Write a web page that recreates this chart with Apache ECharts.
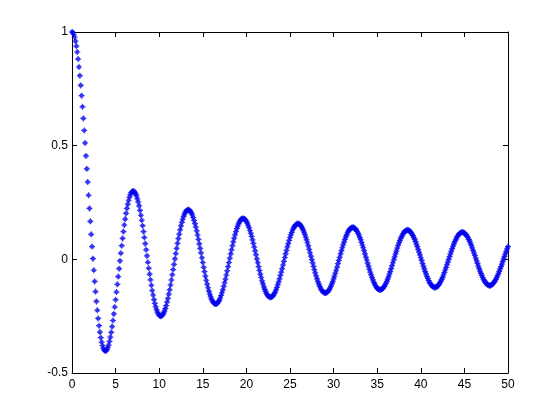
<!DOCTYPE html>
<html>
<head>
<meta charset="utf-8">
<script src="https://cdn.jsdelivr.net/npm/echarts@6/dist/echarts.min.js"></script>
<style>
html,body{margin:0;padding:0;background:#ffffff;}
#chart{width:560px;height:420px;}
</style>
</head>
<body>
<div id="chart"></div>
<script>
// Sample positions: start and step of the x grid (0 to 50)
const xStart = 0;
const xStep = 0.1;
// y values, one per sample (x = 0.0, 0.1, ..., 50.0)
const yValues = [
1.000,0.998,0.990,0.978,0.960,0.938,0.912,0.881,0.846,0.808,
0.765,0.720,0.671,0.620,0.567,0.512,0.455,0.398,0.340,0.282,
0.224,0.167,0.110,0.056,0.003,-0.048,-0.097,-0.142,-0.185,-0.224,
-0.260,-0.292,-0.320,-0.344,-0.364,-0.380,-0.392,-0.399,-0.403,-0.402,
-0.397,-0.389,-0.377,-0.361,-0.342,-0.321,-0.296,-0.269,-0.240,-0.210,
-0.178,-0.144,-0.110,-0.076,-0.041,-0.007,0.027,0.060,0.092,0.122,
0.151,0.177,0.202,0.224,0.243,0.260,0.274,0.285,0.293,0.298,
0.300,0.299,0.295,0.288,0.279,0.266,0.252,0.235,0.215,0.194,
0.172,0.148,0.122,0.096,0.069,0.042,0.015,-0.013,-0.039,-0.065,
-0.090,-0.114,-0.137,-0.157,-0.177,-0.194,-0.209,-0.222,-0.232,-0.240,
-0.246,-0.249,-0.250,-0.248,-0.243,-0.237,-0.228,-0.217,-0.204,-0.188,
-0.172,-0.153,-0.134,-0.113,-0.091,-0.068,-0.045,-0.022,0.002,0.025,
0.048,0.070,0.091,0.111,0.130,0.147,0.163,0.177,0.189,0.199,
0.207,0.213,0.217,0.218,0.218,0.215,0.210,0.203,0.195,0.184,
0.171,0.157,0.142,0.125,0.107,0.088,0.068,0.048,0.028,0.007,
-0.014,-0.035,-0.054,-0.074,-0.092,-0.109,-0.125,-0.140,-0.153,-0.165,
-0.175,-0.183,-0.189,-0.193,-0.196,-0.196,-0.195,-0.191,-0.186,-0.179,
-0.170,-0.159,-0.147,-0.134,-0.119,-0.103,-0.087,-0.069,-0.051,-0.032,
-0.014,0.005,0.024,0.042,0.060,0.077,0.093,0.108,0.122,0.135,
0.146,0.156,0.164,0.171,0.176,0.179,0.180,0.179,0.177,0.173,
0.167,0.159,0.150,0.140,0.128,0.115,0.101,0.086,0.070,0.054,
0.037,0.020,0.002,-0.015,-0.032,-0.049,-0.065,-0.080,-0.095,-0.108,
-0.121,-0.132,-0.141,-0.150,-0.156,-0.161,-0.165,-0.167,-0.167,-0.166,
-0.162,-0.158,-0.151,-0.144,-0.134,-0.124,-0.112,-0.100,-0.086,-0.071,
-0.056,-0.041,-0.025,-0.009,0.008,0.024,0.039,0.055,0.069,0.083,
0.096,0.108,0.119,0.129,0.137,0.144,0.149,0.153,0.156,0.157,
0.156,0.154,0.150,0.145,0.138,0.130,0.120,0.110,0.098,0.086,
0.073,0.059,0.044,0.029,0.014,-0.001,-0.016,-0.031,-0.046,-0.060,
-0.073,-0.086,-0.098,-0.108,-0.118,-0.126,-0.133,-0.139,-0.144,-0.146,
-0.148,-0.148,-0.146,-0.143,-0.139,-0.133,-0.126,-0.118,-0.108,-0.098,
-0.086,-0.074,-0.061,-0.048,-0.034,-0.019,-0.005,0.009,0.024,0.038,
0.051,0.064,0.076,0.088,0.099,0.108,0.117,0.124,0.130,0.135,
0.138,0.140,0.140,0.140,0.137,0.134,0.129,0.123,0.115,0.107,
0.097,0.087,0.075,0.063,0.051,0.038,0.024,0.010,-0.003,-0.017,
-0.030,-0.043,-0.056,-0.068,-0.079,-0.090,-0.100,-0.108,-0.115,-0.122,
-0.127,-0.131,-0.133,-0.134,-0.134,-0.132,-0.129,-0.125,-0.120,-0.113,
-0.106,-0.097,-0.087,-0.077,-0.065,-0.054,-0.041,-0.028,-0.015,-0.002,
0.011,0.024,0.036,0.049,0.061,0.072,0.082,0.092,0.100,0.108,
0.114,0.120,0.124,0.127,0.128,0.129,0.128,0.125,0.122,0.117,
0.111,0.104,0.096,0.088,0.078,0.067,0.056,0.044,0.032,0.020,
0.007,-0.005,-0.018,-0.030,-0.042,-0.054,-0.064,-0.075,-0.084,-0.093,
-0.101,-0.107,-0.113,-0.117,-0.121,-0.123,-0.124,-0.123,-0.121,-0.119,
-0.115,-0.109,-0.103,-0.096,-0.088,-0.079,-0.069,-0.058,-0.047,-0.036,
-0.024,-0.012,0.000,0.012,0.024,0.036,0.047,0.058,0.068,0.078,
0.086,0.094,0.101,0.107,0.112,0.115,0.118,0.119,0.119,0.118,
0.116,0.112,0.108,0.102,0.096,0.088,0.080,0.071,0.061,0.050,
0.039,0.028,0.017,0.005,-0.007,-0.018,-0.030,-0.041,-0.052,-0.062,
-0.071,-0.080,-0.088,-0.095,-0.101,-0.106,-0.110,-0.113,-0.115,-0.115,
-0.115,-0.113,-0.110,-0.106,-0.101,-0.095,-0.088,-0.081,-0.072,-0.063,
-0.053,-0.042,-0.032,-0.021,-0.009,0.002,0.013,0.024,0.035,0.046,
0.056
];
// Axis ranges and tick steps
const xRange = [0, 50];
const xTickStep = 5;
const yRange = [-0.5, 1];
const yTickStep = 0.5;

const points = yValues.map((y, i) => [Number((xStart + i * xStep).toFixed(1)), y]);

const chart = echarts.init(document.getElementById('chart'), null, {renderer: 'canvas'});
const font = {color: '#000', fontFamily: 'Liberation Sans, Arial, sans-serif', fontSize: 12};
const lineStyle = {color: '#000', width: 1};
const baseX = {
  type: 'value', min: xRange[0], max: xRange[1], interval: xTickStep,
  splitLine: {show: false},
  axisLine: {show: true, onZero: false, lineStyle: lineStyle},
  axisTick: {show: true, inside: true, length: 5, lineStyle: lineStyle}
};
const baseY = {
  type: 'value', min: yRange[0], max: yRange[1], interval: yTickStep,
  splitLine: {show: false},
  axisLine: {show: true, onZero: false, lineStyle: lineStyle},
  axisTick: {show: true, inside: true, length: 5, lineStyle: lineStyle}
};
chart.setOption({
  animation: false,
  backgroundColor: '#ffffff',
  grid: {left: 72, right: 52, top: 32, bottom: 47, containLabel: false},
  xAxis: [
    Object.assign({}, baseX, {position: 'bottom', axisLabel: Object.assign({margin: 6}, font)}),
    Object.assign({}, baseX, {position: 'top', axisLabel: {show: false}})
  ],
  yAxis: [
    Object.assign({}, baseY, {position: 'left', axisLabel: Object.assign({margin: 4}, font)}),
    Object.assign({}, baseY, {position: 'right', axisLabel: {show: false}})
  ],
  series: [{
    type: 'scatter',
    data: points,
    symbol: 'path://M2,0H3V1H4V2H5V3H4V4H3V5H2V4H1V3H0V2H1V1H2Z',
    symbolSize: 6,
    itemStyle: {color: '#0000ee'},
    silent: true
  }]
});
</script>
</body>
</html>
